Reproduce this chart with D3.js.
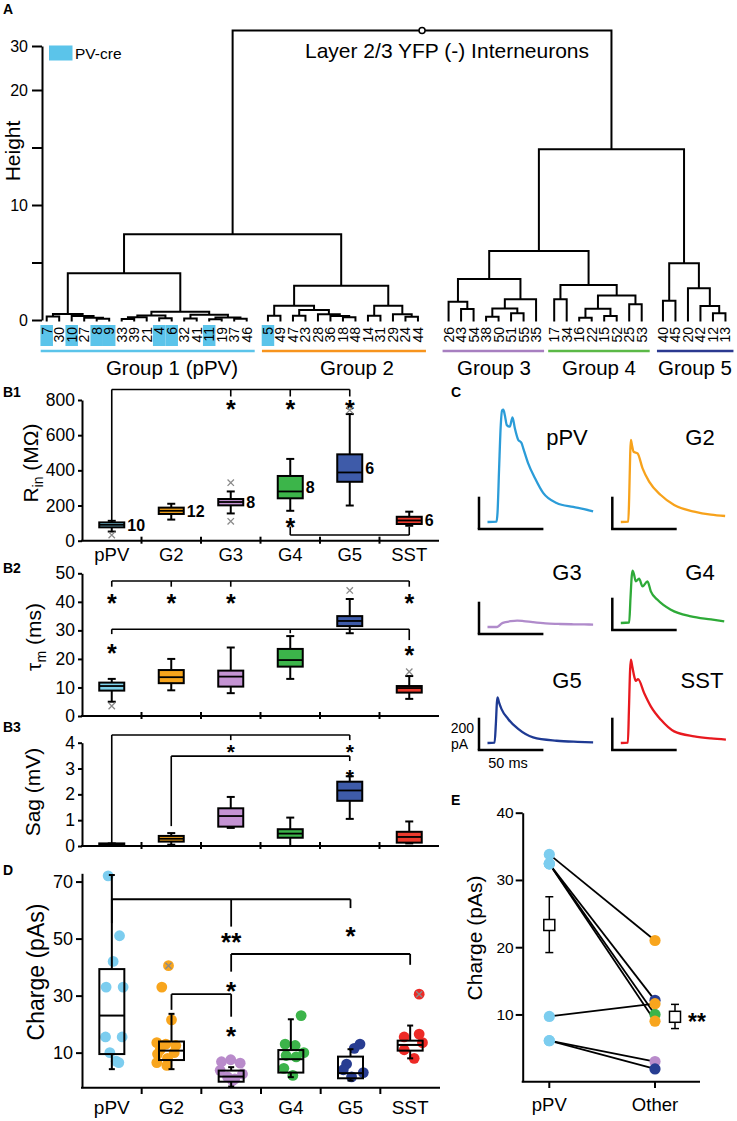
<!DOCTYPE html>
<html><head><meta charset="utf-8">
<script src="https://cdn.jsdelivr.net/npm/d3@7"></script>
<style>body{margin:0;background:#fff}svg{display:block}</style>
</head><body><svg id="c" width="737" height="1121"></svg>
<script>
// ================= DATA =================
// Panel A – dendrogram
const leafOrder = [7,30,10,27,8,9,33,39,21,4,6,32,41,11,19,37,46,
  5,49,47,23,28,36,18,48,14,31,29,24,44,
  26,43,54,38,50,51,55,35,
  17,34,16,22,15,52,25,53,
  40,45,20,42,12,13];
const groupSizes = [17,13,8,8,6];
const groupNames = ["Group 1 (pPV)","Group 2","Group 3","Group 4","Group 5"];
const pvCreCells = [7,10,8,9,4,6,11,5];
// merges: negative = leaf cell id, positive = earlier merge (1-based); third = height
const merges = [
  [-7,-30,0.3],[-8,-9,0.1],[-27,2,0.2],[-10,3,0.35],[1,4,0.52],
  [-33,-39,0.08],[6,-21,0.25],[-4,-6,0.15],[7,8,0.4],[-32,-41,0.12],
  [-11,-19,0.06],[-37,-46,0.1],[11,12,0.22],[10,13,0.45],[9,14,0.72],
  [5,15,4.06],
  [-5,-49,0.37],[-47,-23,0.37],[-18,-48,0.25],[-36,19,0.35],[-28,20,0.5],
  [18,21,0.87],[17,22,1.24],[-14,-31,0.37],[-24,-44,0.29],[-29,25,0.5],
  [24,26,1.24],[23,27,2.98],[16,28,7.45],
  [-43,-54,0.96],[-26,30,1.59],[-38,-50,0.29],[-51,-55,0.58],[32,33,1.01],
  [34,-35,1.8],[31,35,3.57],
  [-17,-34,1.8],[-16,-22,0.2],[-15,-52,0.35],[38,39,0.98],[-25,-53,1.36],
  [40,41,2.12],[37,42,3.04],[36,43,6.0],
  [-40,-45,1.68],[-12,-13,0.58],[-42,46,1.22],[-20,47,2.76],[45,48,4.93],
  [44,49,14.84],[29,50,33.5]
];
const heightTicks = [0,5,10,15,20,30];
const heightTickLabels = ["0","","10","","20","30"];

// Panels B
const cats = ["pPV","G2","G3","G4","G5","SST"];
// [low whisker, q1, median, q3, high whisker]
const rinStats = [[52,76,90,104,113],[120,152,170,188,210],[155,201,220,237,280],[170,241,280,368,465],[200,335,388,491,720],[85,95,115,136,165]];
const rinOutliers = [[32],[],[330,110],[],[742],[]];
const rinN = [10,12,8,8,6,6];
const rinTicks = [0,200,400,600,800];
const tauStats = [[5,8.9,10.5,11.7,13],[9,11.5,13.6,16.1,20],[8,10.3,13.8,15.9,24],[13,17.3,19.6,23.5,28],[29,31.5,33.3,35,41],[6,8.2,9.8,10.5,14]];
const tauOutliers = [[3.5],[],[],[],[44],[15.5]];
const tauTicks = [0,10,20,30,40,50];
const sagStats = [[0,0,0.05,0.1,0.1],[0.05,0.17,0.28,0.39,0.5],[0.7,0.75,1.16,1.46,1.9],[0,0.32,0.48,0.65,1.1],[1.05,1.75,2.15,2.49,2.7],[0.1,0.13,0.35,0.55,0.95]];
const sagTicks = [0,1,2,3,4];
// significance brackets: level, legs [category, end value], stars [category, value, text]
const rinBrackets = [
  {h:860, legs:[["pPV",105],["G3",820],["G4",820],["G5",820]], stars:[["G3",781,"*"],["G4",781,"*"],["G5",781,"*"]]},
  {h:32, legs:[["G4",80],["SST",80]], stars:[["G4",108,"*"]]}
];
const tauBrackets = [
  {h:47.3, legs:[["pPV",45.3],["G2",45.3],["G3",45.3],["SST",45.3]], stars:[["pPV",41.3,"*"],["G2",41.3,"*"],["G3",41.3,"*"],["SST",41.3,"*"]]},
  {h:30.4, legs:[["pPV",28.7],["G4",29],["SST",26.6]], stars:[["pPV",24,"*"],["SST",23.1,"*"]]}
];
const sagBrackets = [
  {h:4.3, legs:[["pPV",0.1],["G3",4.1],["G5",4.1]], stars:[["G3",3.82,"*"],["G5",3.84,"*"]]},
  {h:3.48, legs:[["G2",0.77],["G5",3.29]], stars:[["G5",2.88,"*"]]}
];

// Panel C – example traces [time ms, current pA]
const traceNames = ["pPV","G2","G3","G4","G5","SST"];
const traces = [
  [[0,0],[7,2],[7.8,60],[9,330],[10.3,600],[11.3,690],[12.3,695],[13.5,660],[15,600],[17.3,590],[19.4,648],[21.2,582],[23.8,510],[26.4,489],[27.7,458],[31.5,365],[36.8,272],[43.2,180],[53.6,118],[66.5,93],[75,80],[82,66]],
  [[0,0],[5.8,3],[6.5,150],[7.3,420],[7.8,508],[8.8,470],[9.9,435],[13,425],[16.9,332],[22,250],[31,167],[41.4,105],[57,64],[70,45],[81,37]],
  [[0,0],[7,0],[9,8],[11,22],[14,30],[18,36],[23,40],[28,37],[35,30],[45,22],[55,19],[65,17],[75,16],[82,15]],
  [[0,0],[6.5,3],[7.5,150],[8.5,290],[9.1,324],[10.3,300],[11.6,258],[14.2,274],[16.9,227],[20.7,258],[23.3,196],[28.5,144],[38.9,82],[54.4,41],[70,22],[80.3,10]],
  [[0,0],[5.5,2],[6.5,120],[7.3,250],[7.8,282],[9,250],[10.9,210],[16,149],[23.8,87],[35.4,35],[53.6,14],[70,7],[82,4]],
  [[0,0],[5.5,3],[6.3,200],[7.2,450],[7.8,516],[9,470],[10.5,410],[11.6,385],[13.4,396],[18.1,310],[23.3,227],[31,145],[41.4,72],[57,41],[70,28],[81.6,21]]
];
const scaleBarPA = 200, scaleBarMS = 50;

// Panel D – charge
const chargeStats = [[4.2,9.5,23,39.3,72.3],[4.2,7.4,10.7,13.9,23.6],[-1.9,-0.2,1.6,3.7,4.9],[1.4,3,7.7,10.9,21.7],[0.2,1,2.8,8.6,11.2],[8,10.7,12.7,14.2,19.5]];
const chargeDots = [
  [72,51,42,33,33,15.5,15.5,10,7,6.5],
  [40.5,33,21.5,13.5,13,12.5,11,10,9.5,8,6.5,5.5],
  [7.5,6.8,6.3,3.8,2.5,1.5,0.8,0.2],
  [23,13,12.5,10,9,8.5,4.5,2],
  [13,11.5,6,4,3,1.5],
  [30.5,16.5,15.5,13.5,11,8]
];
const chargeOutlierDots = [[],[40.5],[],[],[],[30.5]];
const chargeTicks = [10,30,50,70];
const chargeBrackets = [
  {h:63.8, legs:[["pPV",55.4],["G3",54.2],["G5",60.7]], stars:[["G3",50.9,"**"],["G5",53,"*"]]},
  {h:44.6, legs:[["G3",38.4],["SST",40.8]], stars:[["G3",33.8,"*"]]},
  {h:30.5, legs:[["G2",25],["G3",22.6]], stars:[["G3",18,"*"]]}
];

// Panel E – paired
const pairPPV   = [33.8,32.4,32.4,32.4,9.7,6.1,6.1];
const pairOther = [21.0,12.1,10.0,9.0,11.6,3.0,1.9];
const pairOtherGroup = ["G2","G5","G4","G2","G2","G3","G5"];
const pairMeans = [{cat:"pPV",mean:23.3,lo:19.2,hi:27.5},{cat:"Other",mean:9.65,lo:7.9,hi:11.5}];
const pairCats = ["pPV","Other"];
const pairTicks = [10,20,30,40];

// ================= STYLE / LAYOUT =================
const F = '"Liberation Sans", Arial, Helvetica, sans-serif';
const boxColor = {pPV:"#7fd3ec",G2:"#f7a51c",G3:"#c493d3",G4:"#3cb54a",G5:"#3e5ba9",SST:"#ee3b2e"};
const dotColor = {pPV:"#7ccdef",G2:"#f8a51d",G3:"#b98bcb",G4:"#3cb44a",G5:"#283d92",SST:"#ed2a26"};
const traceColor = ["#2b9cd8","#f7a21b","#b08bcb","#2eaa38","#1e3a93","#e8191f"];
const groupLineColor = ["#5bc4ea","#f7941d","#a77fc0","#5bb947","#2b3990"];
const pvCreColor = "#5bc4ea";

const svg = d3.select("#c");
function T(sel,x,y,s,size,o={}){
  return sel.append("text").attr("x",x).attr("y",y).text(s)
    .attr("font-size",size).attr("font-family",F)
    .attr("text-anchor",o.anchor||"start")
    .attr("font-weight",o.bold?"bold":"normal")
    .attr("fill",o.fill||"#000");
}
function star(sel,x,yc,s,size=25){
  return T(sel,x,yc+0.57*size,s,size,{anchor:"middle",bold:true});
}
function line(sel,x1,y1,x2,y2,w=2,c="#000"){
  return sel.append("line").attr("x1",x1).attr("y1",y1).attr("x2",x2).attr("y2",y2)
    .attr("stroke",c).attr("stroke-width",w);
}
function yAxis(sel,scale,x,ticks,fs,tickLen,pad,labels){
  const ax=d3.axisLeft(scale).tickValues(ticks).tickSize(tickLen).tickSizeOuter(0).tickPadding(pad);
  if(labels) ax.tickFormat((d,i)=>labels[i]); else ax.tickFormat(d3.format("d"));
  const a=sel.append("g").attr("transform",`translate(${x},0)`).call(ax);
  a.selectAll("path,line").attr("stroke","#000").attr("stroke-width",2);
  a.selectAll("text").attr("font-size",fs).attr("font-family",F).attr("fill","#000");
  return a;
}
function xMark(sel,x,y,r=3.2){
  sel.append("path").attr("d",`M${x-r},${y-r}L${x+r},${y+r}M${x-r},${y+r}L${x+r},${y-r}`)
    .attr("stroke","#8a8a8a").attr("stroke-width",1.3).attr("fill","none");
}

// panel letters
[["A",3,14],["B1",3,397],["B2",3,573],["B3",3,732],["C",451,397],["D",3,875],["E",451,805]]
  .forEach(([s,x,y])=>T(svg,x,y,s,14,{bold:true}));

// ================= PANEL A =================
const gA = svg.append("g");
const yA = d3.scaleLinear().domain([0,20,30]).range([320,90,46]);
const groupOffset = [0,0.7,2.15,2.6,3.3];
const slot = d3.scaleLinear().domain([0,1]).range([46.7,59.2]);
const leafGroupIdx = [];
groupSizes.forEach((n,g)=>{for(let k=0;k<n;k++) leafGroupIdx.push(g);});
const leafX = {};
leafOrder.forEach((id,i)=>{ leafX[id]=slot(i+groupOffset[leafGroupIdx[i]]); });
const leafH = -0.12;
const nodeX=[], nodeH=[];
function cx(ref){return ref<0?leafX[-ref]:nodeX[ref-1];}
function ch(ref){return ref<0?leafH:nodeH[ref-1];}
merges.forEach(([a,b,h],i)=>{
  nodeX[i]=(cx(a)+cx(b))/2; nodeH[i]=h;
  gA.append("path").attr("d",`M${cx(a)},${yA(ch(a))}V${yA(h)}H${cx(b)}V${yA(ch(b))}`)
    .attr("fill","none").attr("stroke","#000").attr("stroke-width",2);
});
const rootI = merges.length-1;
gA.append("circle").attr("cx",nodeX[rootI]).attr("cy",yA(nodeH[rootI])).attr("r",3)
  .attr("fill","#fff").attr("stroke","#000").attr("stroke-width",1.5);
yAxis(gA,yA,42,heightTicks,16,10,4,heightTickLabels);
gA.append("text").attr("transform",`translate(20,151) rotate(-90)`).attr("text-anchor","middle")
  .attr("font-size",21).attr("font-family",F).text("Height");
const sp = slot(1)-slot(0);
pvCreCells.forEach(id=>{
  gA.append("rect").attr("x",leafX[id]-sp/2).attr("y",325).attr("width",sp).attr("height",21).attr("fill",pvCreColor);
});
leafOrder.forEach(id=>{
  gA.append("text").attr("transform",`translate(${leafX[id]},327) rotate(-90)`)
    .attr("text-anchor","end").attr("dy","0.36em").attr("font-size",14).attr("font-family",F).text(id);
});
gA.append("rect").attr("x",49).attr("y",45.5).attr("width",23.5).attr("height",15).attr("fill",pvCreColor);
T(gA,75,59,"PV-cre",15.5);
T(gA,305,58,"Layer 2/3 YFP (-) Interneurons",21);
const groupLabelX = [172,357,494,599,695];
let start=0;
groupSizes.forEach((n,g)=>{
  const x1=leafX[leafOrder[start]]-6, x2=leafX[leafOrder[start+n-1]]+8;
  line(gA,x1,351,Math.min(x2,735),351,2.5,groupLineColor[g]);
  T(gA,groupLabelX[g],375,groupNames[g],20.5,{anchor:"middle"});
  start+=n;
});

// ================= PANELS B =================
const xB = d3.scaleBand().domain(cats).range([82,439]);
function boxPanel(g,y,stats,outliers,brackets,ticks,axisY,opts={}){
  const w=25;
  brackets.forEach(b=>{
    const xs=b.legs.map(l=>xB(l[0])+xB.bandwidth()/2);
    line(g,d3.min(xs),y(b.h),d3.max(xs),y(b.h),1.6);
    b.legs.forEach((l,i)=>line(g,xs[i],y(b.h),xs[i],y(l[1]),1.6));
    b.stars.forEach(s=>star(g,xB(s[0])+xB.bandwidth()/2,y(s[1]),s[2],opts.starSize||25));
  });
  cats.forEach((c,i)=>{
    const [lo,q1,md,q3,hi]=stats[i];
    const cx=xB(c)+xB.bandwidth()/2;
    line(g,cx,y(lo),cx,y(hi),2);
    line(g,cx-4,y(lo),cx+4,y(lo),2);
    line(g,cx-4,y(hi),cx+4,y(hi),2);
    g.append("rect").attr("x",cx-w/2).attr("y",y(q3)).attr("width",w).attr("height",Math.max(y(q1)-y(q3),1.5))
      .attr("fill",boxColor[c]).attr("stroke","#000").attr("stroke-width",2);
    line(g,cx-w/2,y(md),cx+w/2,y(md),1.8);
    (outliers[i]||[]).forEach(v=>xMark(g,cx,y(v)));
    if(opts.n) T(g,cx+w/2+3,y((q1+q3)/2)+6,opts.n[i],16,{bold:true});
  });
  yAxis(g,y,82,ticks,17.5,4,3);
  line(g,81,axisY,439,axisY,2);
  for(let i=1;i<cats.length;i++){ const xx=xB(cats[i]); line(g,xx,axisY-4,xx,axisY+3,2); }
}
const gB1=svg.append("g");
const yB1=d3.scaleLinear().domain([0,800]).range([540.7,400]);
boxPanel(gB1,yB1,rinStats,rinOutliers,rinBrackets,rinTicks,540.7,{n:rinN});
cats.forEach(c=>T(gB1,xB(c)+xB.bandwidth()/2,561,c,18.5,{anchor:"middle"}));
const lb1=gB1.append("text").attr("transform","translate(38,463) rotate(-90)").attr("text-anchor","middle")
  .attr("font-size",21).attr("font-family",F);
lb1.append("tspan").text("R");
lb1.append("tspan").text("in").attr("font-size",14).attr("dy",5);
lb1.append("tspan").text(" (MΩ)").attr("dy",-5);

const gB2=svg.append("g");
const yB2=d3.scaleLinear().domain([0,50]).range([716,573.3]);
boxPanel(gB2,yB2,tauStats,tauOutliers,tauBrackets,tauTicks,716);
const lb2=gB2.append("text").attr("transform","translate(41,637) rotate(-90)").attr("text-anchor","middle")
  .attr("font-size",21).attr("font-family",F);
lb2.append("tspan").text("τ");
lb2.append("tspan").text("m").attr("font-size",14).attr("dy",5);
lb2.append("tspan").text(" (ms)").attr("dy",-5);

const gB3=svg.append("g");
const yB3=d3.scaleLinear().domain([0,4]).range([846,742.7]);
boxPanel(gB3,yB3,sagStats,[],sagBrackets,sagTicks,846,{starSize:21});
gB3.append("text").attr("transform","translate(40,792) rotate(-90)").attr("text-anchor","middle")
  .attr("font-size",21).attr("font-family",F).text("Sag (mV)");

// ================= PANEL C =================
const gC=svg.append("g");
const cellPos=[[479,529],[612.3,529],[479,634],[612.3,630],[479,750],[612.3,750]];
const cellLabel=[[567,445],[700,445],[567,580],[700,580],[567,688],[702,688]];
const tS=d3.scaleLinear().domain([0,scaleBarMS]).range([0,64.4]);
const aS=d3.scaleLinear().domain([0,scaleBarPA]).range([0,-32.3]);
traces.forEach((tr,i)=>{
  const [x0,y0]=cellPos[i];
  line(gC,x0,y0,x0,y0+aS(scaleBarPA),2.5);
  line(gC,x0-1.25,y0,x0+tS(scaleBarMS),y0,2.5);
  const lg=d3.line().x(d=>x0+8.5+tS(d[0])).y(d=>y0-7+aS(d[1])).curve(d3.curveMonotoneX);
  gC.append("path").attr("d",lg(tr)).attr("fill","none").attr("stroke",traceColor[i]).attr("stroke-width",2.3);
  T(gC,cellLabel[i][0],cellLabel[i][1],traceNames[i],22,{anchor:"middle"});
});
T(gC,474,733,"200",14,{anchor:"end"});
T(gC,451,749,"pA",14);
T(gC,508,768,"50 ms",14.5,{anchor:"middle"});

// ================= PANEL D =================
const gD=svg.append("g");
const xD=d3.scaleBand().domain(cats).range([82,440]);
const yD=d3.scaleLinear().domain([-2.3,72.9]).range([1087.7,873.3]);
const dJitter=[[-3.7,7.7,1.3,-5.7,11.3,-6.3,10.3,-2,4.3,7],
  [-3,-9.7,0,-14.7,-5.7,4.3,-11.3,2.7,-14,-4,-14.7,-4.7],
  [-0.4,-9.7,9,-11,11.3,-3.7,3.6,1.3],
  [10.3,-5.7,4.3,13,-4.7,5.3,-7,2],
  [9.5,3.8,-3.9,-7.2,12.8,1.1],
  [9,9,-6,12.3,-6,4]];
chargeBrackets.forEach(b=>{
  const xs=b.legs.map(l=>xD(l[0])+xD.bandwidth()/2);
  line(gD,d3.min(xs),yD(b.h),d3.max(xs),yD(b.h),1.8);
  b.legs.forEach((l,i)=>line(gD,xs[i],yD(b.h),xs[i],yD(l[1]),1.8));
  b.stars.forEach(s=>star(gD,xD(s[0])+xD.bandwidth()/2,yD(s[1]),s[2],26));
});
cats.forEach((c,i)=>{
  const cxx=xD(c)+xD.bandwidth()/2;
  chargeDots[i].forEach((v,k)=>{
    gD.append("circle").attr("cx",cxx+dJitter[i][k]).attr("cy",yD(v)).attr("r",5.4).attr("fill",dotColor[c]);
    if(chargeOutlierDots[i].includes(v)) xMark(gD,cxx+dJitter[i][k],yD(v),3);
  });
});
cats.forEach((c,i)=>{
  const [lo,q1,md,q3,hi]=chargeStats[i];
  const cxx=xD(c)+xD.bandwidth()/2, w=25;
  line(gD,cxx,yD(lo),cxx,yD(q1),2); line(gD,cxx,yD(q3),cxx,yD(hi),2);
  line(gD,cxx-3,yD(lo),cxx+3,yD(lo),2); line(gD,cxx-3,yD(hi),cxx+3,yD(hi),2);
  gD.append("rect").attr("x",cxx-w/2).attr("y",yD(q3)).attr("width",w).attr("height",yD(q1)-yD(q3))
    .attr("fill","none").attr("stroke","#000").attr("stroke-width",2);
  line(gD,cxx-w/2,yD(md),cxx+w/2,yD(md),2);
});
yAxis(gD,yD,82,chargeTicks,18,6,3);
line(gD,81,1087.7,440,1087.7,2);
for(let i=1;i<cats.length;i++){const xx=xD(cats[i]); line(gD,xx,1087.7,xx,1094,2);}
cats.forEach(c=>T(gD,xD(c)+xD.bandwidth()/2,1114,c,19,{anchor:"middle"}));
gD.append("text").attr("transform","translate(44,972) rotate(-90)").attr("text-anchor","middle")
  .attr("font-size",23).attr("font-family",F).text("Charge (pAs)");

// ================= PANEL E =================
const gE=svg.append("g");
const xE=d3.scalePoint().domain(pairCats).range([549.3,655]);
const yE=d3.scaleLinear().domain([0,40]).range([1081.7,812.7]);
pairPPV.forEach((v,i)=>line(gE,xE("pPV"),yE(v),xE("Other"),yE(pairOther[i]),1.8));
pairPPV.forEach(v=>gE.append("circle").attr("cx",xE("pPV")).attr("cy",yE(v)).attr("r",5.6).attr("fill",dotColor.pPV));
pairOther.forEach((v,i)=>gE.append("circle").attr("cx",xE("Other")).attr("cy",yE(v)).attr("r",5.6).attr("fill",dotColor[pairOtherGroup[i]]));
pairMeans.forEach((m,i)=>{
  const xx=xE(m.cat)+(i===1?20:0);
  line(gE,xx,yE(m.lo),xx,yE(m.hi),1.5);
  line(gE,xx-4,yE(m.lo),xx+4,yE(m.lo),1.5); line(gE,xx-4,yE(m.hi),xx+4,yE(m.hi),1.5);
  gE.append("rect").attr("x",xx-5.5).attr("y",yE(m.mean)-5.5).attr("width",11).attr("height",11)
    .attr("fill","#fff").attr("stroke","#000").attr("stroke-width",1.5);
});
star(gE,697,yE(9.65),"**",23);
yAxis(gE,yE,522.7,pairTicks,15.5,7,2);
line(gE,521.7,1081.7,700,1081.7,2);
pairCats.forEach(c=>{line(gE,xE(c),1081.7,xE(c),1088,2); T(gE,xE(c),1111,c,18.5,{anchor:"middle"});});
gE.append("text").attr("transform","translate(482,938) rotate(-90)").attr("text-anchor","middle")
  .attr("font-size",21).attr("font-family",F).text("Charge (pAs)");
</script></body></html>
